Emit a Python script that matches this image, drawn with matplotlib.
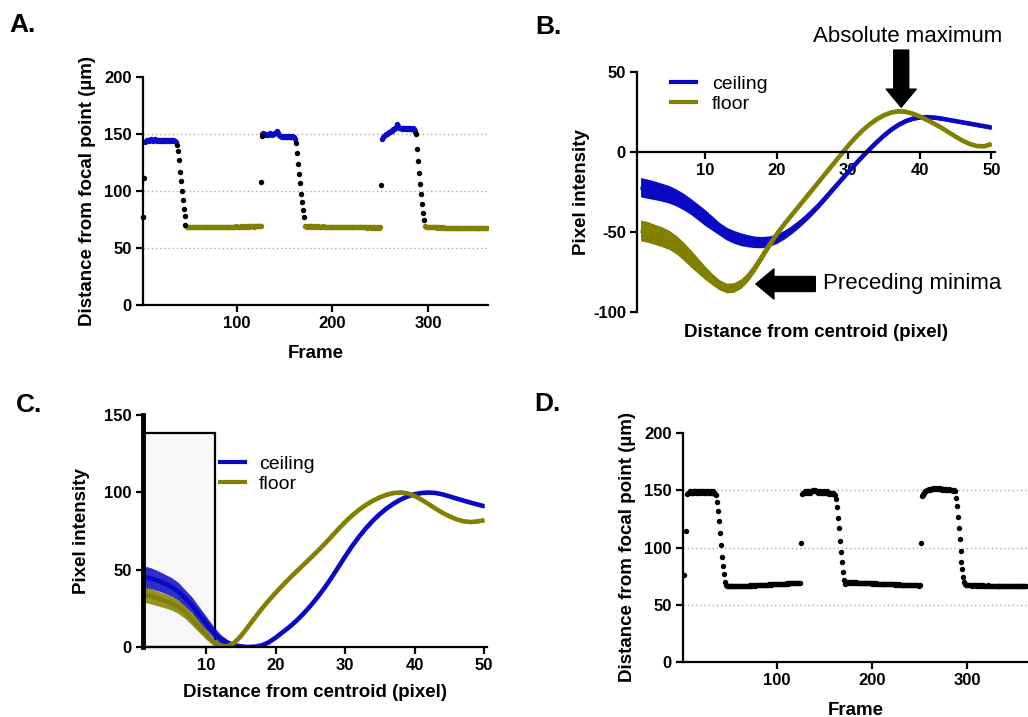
import numpy as np
import matplotlib
matplotlib.use("Agg")
import matplotlib.pyplot as plt
from matplotlib.lines import Line2D
from matplotlib.patches import Rectangle

plt.rcParams['font.family'] = ['Liberation Sans', 'DejaVu Sans']
plt.rcParams['axes.unicode_minus'] = False

BLUE = '#0a0ac4'
OLIVE = '#828000'

# ---------------- panel A : frame traces, colour coded ----------------
# black points (transitions / outliers)
a_black_frames = [1, 2, 3, 37, 38, 39, 40, 41, 42, 43, 44, 45, 46, 125, 126,
                  162, 163, 164, 165, 166, 167, 168, 169, 170, 251,
                  288, 289, 290, 291, 292, 293, 294, 295, 296]
a_black_vals = [77, 77, 111, 140, 135, 127, 117, 109, 100, 92, 84, 78, 70, 108, 148,
                142, 133, 124, 115, 107, 97, 90, 83, 77, 105,
                150, 137, 126, 116, 106, 97, 89, 81, 75]
# ceiling segments (start frame, values)
a_blue_start = [4, 126, 252]
a_blue_vals = [
    [143, 144, 145, 145, 144, 145, 146, 145, 144, 145,
     146, 145, 144, 145, 145, 144, 145, 144, 145, 145,
     144, 145, 144, 145, 145, 144, 145, 144, 145, 145,
     144, 144, 143],
    [150, 151, 150, 150, 149, 150, 150, 149, 150, 151,
     150, 149, 150, 150, 151, 152, 153, 151, 149, 148,
     148, 147, 148, 147, 148, 147, 147, 148, 147, 148,
     147, 147, 148, 147, 147, 146],
    [146, 147, 148, 149, 150, 150, 151, 152, 152, 153,
     153, 154, 154, 154, 155, 156, 159, 157, 155, 155,
     155, 154, 155, 155, 154, 155, 154, 155, 154, 155,
     154, 154, 155, 154, 153, 152],
]
# floor segments
a_olive_start = [47, 171, 297]
a_olive_vals = [
    [69.0, 68.6, 68.4, 68.7, 68.5, 68.3, 68.6, 68.8, 68.4, 68.5,
     68.7, 68.3, 68.5, 68.6, 68.4, 68.7, 68.5, 68.3, 68.6, 68.4,
     68.5, 68.7, 68.4, 68.6, 68.5, 68.3, 68.7, 68.5, 68.4, 68.6,
     68.5, 68.7, 68.4, 68.6, 68.5, 68.8, 68.6, 68.4, 68.7, 68.5,
     68.6, 68.8, 68.5, 68.7, 68.6, 68.4, 68.8, 68.6, 68.7, 68.5,
     68.8, 68.6, 68.9, 68.7, 68.6, 68.8, 68.7, 68.9, 68.6, 68.8,
     68.9, 68.7, 69.0, 68.8, 68.9, 69.1, 68.8, 69.0, 68.9, 69.1,
     69.0, 68.8, 69.1, 69.0, 69.2, 68.9, 69.1, 69.0, 69.2],
    [69.3, 69.0, 68.8, 69.0, 68.9, 69.1, 68.8, 69.0, 68.9, 68.7,
     68.9, 68.8, 69.0, 68.7, 68.9, 68.8, 68.6, 68.8, 68.7, 68.9,
     68.6, 68.8, 68.7, 68.5, 68.7, 68.6, 68.8, 68.5, 68.7, 68.6,
     68.4, 68.6, 68.5, 68.7, 68.4, 68.6, 68.5, 68.3, 68.5, 68.4,
     68.6, 68.3, 68.5, 68.4, 68.2, 68.4, 68.3, 68.5, 68.2, 68.4,
     68.3, 68.1, 68.3, 68.2, 68.4, 68.1, 68.3, 68.2, 68.0, 68.2,
     68.1, 68.3, 68.0, 68.2, 68.1, 67.9, 68.1, 68.0, 68.2, 67.9,
     68.1, 68.0, 67.8, 68.0, 67.9, 68.1, 67.8, 68.0, 67.9, 68.1],
    [69.3, 68.6, 68.4, 68.2, 68.4, 68.1, 68.3, 68.0, 68.2, 68.1,
     68.3, 68.0, 68.2, 67.9, 68.1, 68.0, 67.8, 68.0, 67.9, 68.1,
     67.8, 67.6, 67.8, 67.7, 67.9, 67.6, 67.8, 67.7, 67.5, 67.7,
     67.6, 67.8, 67.5, 67.7, 67.6, 67.4, 67.6, 67.5, 67.7, 67.4,
     67.6, 67.5, 67.3, 67.5, 67.4, 67.6, 67.3, 67.5, 67.4, 67.2,
     67.4, 67.3, 67.5, 67.2, 67.4, 67.3, 67.5, 67.6, 67.4, 67.6,
     67.5, 67.7, 67.4, 67.6, 67.5, 67.7],
]

# ---------------- panel D : raw frame trace ----------------
d_seg_start = [2, 4, 5, 37, 46, 125, 126, 162, 171, 251, 252, 288, 298]
d_seg_vals = [
    [76],
    [114],
    [147, 148, 148, 149, 148, 148, 149, 148, 149, 149, 148, 149, 148, 149, 149, 148,
     149, 149, 148, 149, 148, 149, 149, 148, 148, 149, 148, 148, 149, 148, 147, 146],
    [140, 132, 123, 113, 102, 92, 84, 77, 70],
    [67.5, 66.8, 66.5, 66.6, 66.4, 66.7, 66.5, 66.3, 66.6, 66.4,
     66.5, 66.7, 66.4, 66.6, 66.3, 66.5, 66.7, 66.4, 66.6, 66.5,
     66.7, 66.5, 66.8, 66.6, 66.7, 66.9, 66.6, 66.8, 66.7, 66.9,
     67.0, 66.8, 67.1, 66.9, 67.0, 67.2, 67.0, 67.3, 67.1, 67.3,
     67.4, 67.2, 67.5, 67.3, 67.5, 67.7, 67.5, 67.8, 67.6, 67.8,
     67.9, 67.7, 68.0, 67.8, 68.1, 68.0, 68.2, 68.1, 68.3, 68.2,
     68.4, 68.3, 68.5, 68.4, 68.6, 68.5, 68.7, 68.6, 68.8, 68.7,
     68.9, 68.8, 69.0, 68.9, 69.1, 69.0, 69.2, 69.1, 69.3],
    [104],
    [147, 148, 148, 149, 148, 149, 148, 149, 149, 148, 149, 149, 150, 149, 150, 149, 149, 148,
     149, 148, 149, 148, 148, 149, 148, 148, 149, 148, 148, 147, 148, 148, 147, 148, 147, 146],
    [142, 135, 126, 117, 106, 96, 87, 79, 72],
    [68.2, 69.0, 69.3, 69.5, 69.4, 69.6, 69.3, 69.5, 69.4, 69.6,
     69.5, 69.3, 69.5, 69.4, 69.2, 69.4, 69.3, 69.1, 69.3, 69.2,
     69.0, 69.2, 69.0, 68.8, 69.0, 68.9, 68.7, 68.9, 68.7, 68.5,
     68.7, 68.6, 68.4, 68.6, 68.4, 68.3, 68.5, 68.3, 68.1, 68.3,
     68.2, 68.0, 68.2, 68.0, 67.9, 68.1, 67.9, 67.8, 68.0, 67.8,
     67.7, 67.9, 67.7, 67.6, 67.8, 67.6, 67.5, 67.7, 67.5, 67.4,
     67.6, 67.4, 67.3, 67.5, 67.3, 67.2, 67.4, 67.2, 67.1, 67.3,
     67.2, 67.0, 67.2, 67.0, 66.9, 67.1, 66.9, 67.0, 66.8, 67.0],
    [104],
    [145, 146, 147, 148, 149, 149, 150, 150, 151, 150, 151, 151, 152, 151, 152, 151, 152, 151,
     151, 152, 151, 151, 150, 151, 151, 150, 151, 150, 150, 151, 150, 150, 150, 149, 150, 149],
    [143, 136, 127, 117, 107, 97, 87, 81, 74, 70],
    [67.8, 67.3, 67.1, 67.0, 67.2, 66.9, 67.1, 66.8, 67.0, 66.9,
     67.1, 66.8, 67.0, 66.9, 66.7, 66.9, 66.8, 67.0, 66.7, 66.9,
     66.8, 66.6, 66.8, 66.7, 66.9, 66.6, 66.8, 66.7, 66.5, 66.7,
     66.6, 66.8, 66.5, 66.7, 66.6, 66.4, 66.6, 66.5, 66.7, 66.4,
     66.6, 66.5, 66.3, 66.5, 66.4, 66.6, 66.3, 66.5, 66.4, 66.2,
     66.4, 66.3, 66.5, 66.2, 66.4, 66.3, 66.1, 66.3, 66.2, 66.4,
     66.1, 66.3, 66.2, 66.0, 66.2],
]

# ---------------- panels B and C : radial profiles ----------------
dist = list(range(1, 51))
b_ceiling = [-22, -23, -24, -25.2, -26.5, -28.5, -31, -34, -37.5, -41,
             -44.5, -48, -51, -53, -54.5, -55.5, -56.2, -56.3, -55.6, -54.2,
             -51.8, -48.8, -45.3, -41.5, -37.3, -32.8, -27.8, -22.7, -17.6, -12.6,
             -7.6, -2.8, 1.8, 6.2, 10.3, 13.9, 16.9, 19.2, 20.8, 21.6,
             21.8, 21.5, 20.9, 20.1, 19.3, 18.5, 17.7, 16.9, 16.1, 15.3]
b_ceiling_err = [6, 6, 5.8, 5.6, 5.5, 5.3, 5.2, 5, 5, 5,
                 4.5, 4, 4, 4, 4, 3.8, 3.6, 3.5, 3.2, 3,
                 2.8, 2.6, 2.4, 2.2, 2, 1.8, 1.6, 1.4, 1.2, 1,
                 1, 1, 1, 1, 1, 1, 1, 1, 1, 1,
                 1, 1, 1, 1, 1, 1, 1, 1, 1, 1]
b_floor = [-49, -50, -51.5, -53, -55, -58, -62, -66.5, -71, -75.5,
           -79.5, -83, -85, -84.7, -82.3, -78, -72, -65, -58, -51.5,
           -45.5, -40, -34.5, -29, -23.5, -18, -12.5, -7, -1.5, 4,
           9, 13.5, 17.3, 20.5, 23, 24.7, 25.5, 25.2, 24, 22.2,
           20, 17.7, 15.2, 12.4, 9.6, 7, 5, 3.7, 3.6, 5]
b_floor_err = [6.5, 6.5, 6.3, 6.2, 6, 5.8, 5.6, 5.4, 4.8, 4.2,
               3.6, 3.2, 3, 3, 3, 2.8, 2.6, 2.4, 2.2, 2,
               1, 1, 1, 1, 1, 1, 1, 1, 1, 1,
               1, 1, 1, 1, 1, 1, 1, 1, 1, 1,
               1, 1, 1, 1, 1, 1, 1, 1, 1, 1]
c_ceiling = [45.5, 44.5, 43, 41, 39, 36, 31.5, 27, 21, 15.5,
             10, 5.5, 2.8, 1.2, 0.4, 0, 0.2, 1, 3, 6,
             9.5, 13, 17, 21.5, 26.5, 32, 38, 44.5, 51.5, 58.5,
             65.2, 71.3, 76.8, 81.7, 86, 89.7, 92.8, 95.4, 97.4, 98.8,
             99.6, 99.9, 99.6, 98.7, 97.4, 96, 94.7, 93.4, 92.2, 91]
c_ceiling_err = [7, 6.8, 6.5, 6.2, 6, 5.8, 5.5, 5.2, 5, 4.5,
                 3.8, 3, 2.2, 1.6, 1.2, 1, 1, 1, 1, 1,
                 1, 1, 1, 1, 1, 1, 1, 1, 1, 1,
                 1, 1, 1, 1, 1, 1, 1, 1, 1, 1,
                 1, 1, 1, 1, 1, 1, 1, 1, 1, 1]
c_floor = [34, 33, 31.5, 30, 28.5, 26, 22.5, 18, 13, 8,
           3.5, 1, 0.3, 2.5, 7, 12.8, 18.8, 24.6, 30, 35,
           39.8, 44.4, 48.8, 53.1, 57.4, 61.8, 66.4, 71.2, 76.1, 80.8,
           85, 88.7, 91.9, 94.6, 96.8, 98.5, 99.6, 99.9, 99.3, 97.6,
           95.2, 92.4, 89.5, 86.8, 84.5, 82.6, 81.3, 80.8, 81.2, 82]
c_floor_err = [5, 5, 4.8, 4.6, 4.5, 4.3, 4.1, 4, 3.5, 3,
               2.2, 1.5, 1, 1, 1, 1, 1, 1, 1, 1,
               1, 1, 1, 1, 1, 1, 1, 1, 1, 1,
               1, 1, 1, 1, 1, 1, 1, 1, 1, 1,
               1, 1, 1, 1, 1, 1, 1, 1, 1, 1]

W, H = 1028, 717
fig = plt.figure(figsize=(W / 100, H / 100), dpi=100)


def px_axes(left, top, right, bottom):
    return fig.add_axes([left / W, 1 - bottom / H, (right - left) / W, (bottom - top) / H])


def style(ax):
    for s in ['top', 'right']:
        ax.spines[s].set_visible(False)
    for s in ['left', 'bottom']:
        ax.spines[s].set_linewidth(1.6)
    ax.tick_params(direction='out', length=5, width=1.6, labelsize=12, pad=3)
    for lab in ax.get_xticklabels() + ax.get_yticklabels():
        lab.set_fontweight('bold')


def frame_axes(ax):
    ax.set_ylim(0, 200)
    ax.set_yticks([0, 50, 100, 150, 200])
    ax.set_xticks([100, 200, 300])
    for g in [50, 100, 150]:
        ax.axhline(g, color='#a8a8a8', lw=1, ls=(0, (1, 2)), zorder=0)
    ax.set_xlabel('Frame', fontsize=13.5, fontweight='bold', labelpad=10)
    ax.set_ylabel('Distance from focal point (\u00b5m)', fontsize=13.5, fontweight='bold', labelpad=6)
    style(ax)


def profile(ax, mean, err, color, band_alpha=1.0, lw=3.3):
    m = np.array(mean)
    e = np.array(err)
    ax.fill_between(dist, m - e, m + e, color=color, lw=0, alpha=band_alpha)
    ax.plot(dist, m, color=color, lw=lw, solid_capstyle='butt', solid_joinstyle='round')


ms = 3.9
# A
axA = px_axes(143, 77, 488, 305)
axA.set_xlim(1.5, 363)
for st, vals in zip(a_olive_start, a_olive_vals):
    axA.plot(np.arange(st, st + len(vals)), vals, 'o', ms=ms, color=OLIVE, mec='none')
for st, vals in zip(a_blue_start, a_blue_vals):
    axA.plot(np.arange(st, st + len(vals)), vals, 'o', ms=ms, color=BLUE, mec='none')
axA.plot(a_black_frames, a_black_vals, 'o', ms=ms, color='black', mec='none', clip_on=False)
frame_axes(axA)

# D
axD = px_axes(683, 433, 1028, 662)
axD.set_xlim(1, 364)
d_frames = np.concatenate([np.arange(st, st + len(v)) for st, v in zip(d_seg_start, d_seg_vals)])
d_vals = np.concatenate([np.array(v, dtype=float) for v in d_seg_vals])
axD.plot(d_frames, d_vals, 'o', ms=ms, color='black', mec='none')
frame_axes(axD)

# B
axB = px_axes(637, 72, 995, 312)
axB.set_xlim(0.5, 50.5)
axB.set_ylim(-100, 50)
profile(axB, b_ceiling, b_ceiling_err, BLUE)
profile(axB, b_floor, b_floor_err, OLIVE)
axB.spines['bottom'].set_position(('data', 0))
axB.set_xticks([10, 20, 30, 40, 50])
axB.set_yticks([-100, -50, 0, 50])
axB.set_ylabel('Pixel intensity', fontsize=13.5, fontweight='bold', labelpad=2)
style(axB)
fig.text(816 / W, 1 - 333 / H, 'Distance from centroid (pixel)', fontsize=13.5,
         fontweight='bold', ha='center', va='center')
arr = dict(arrowstyle='simple,head_length=0.65,head_width=1.08,tail_width=0.54',
           color='black', shrinkA=0, shrinkB=0, mutation_scale=20)
axB.annotate('', xy=(37.4, 28), xytext=(37.4, 63.7), arrowprops=arr, annotation_clip=False)
axB.annotate('', xy=(17.1, -82.5), xytext=(25.4, -82.5), arrowprops=arr, annotation_clip=False)
fig.text(908 / W, 1 - 36 / H, 'Absolute maximum', fontsize=16, ha='center', va='center')
fig.text(823 / W, 1 - 284 / H, 'Preceding minima', fontsize=16, ha='left', va='center')
handles = [Line2D([], [], color=BLUE, lw=3), Line2D([], [], color=OLIVE, lw=3)]
axB.legend(handles, ['ceiling', 'floor'], loc='upper left', bbox_to_anchor=(671 / W, 1 - 75 / H),
           bbox_transform=fig.transFigure, frameon=False, fontsize=14, handlelength=1.3,
           handletextpad=0.8, labelspacing=0.15, borderpad=0, borderaxespad=0)

# C
axC = px_axes(143, 415, 487, 647)
axC.set_xlim(0.94, 50.4)
axC.set_ylim(0, 150)
axC.add_patch(Rectangle((0.94, 0), 11.3 - 0.94, 138.3, facecolor='#f7f7f7',
                        edgecolor='black', lw=1.6, zorder=1, clip_on=False))
profile(axC, c_ceiling, c_ceiling_err, BLUE, band_alpha=0.85)
profile(axC, c_floor, c_floor_err, OLIVE, band_alpha=0.85)
axC.set_xticks([10, 20, 30, 40, 50])
axC.set_yticks([0, 50, 100, 150])
axC.set_xlabel('Distance from centroid (pixel)', fontsize=13.5, fontweight='bold', labelpad=8)
axC.set_ylabel('Pixel intensity', fontsize=13.5, fontweight='bold', labelpad=10)
style(axC)
axC.spines['left'].set_linewidth(3.5)
axC.legend(handles, ['ceiling', 'floor'], loc='upper left', bbox_to_anchor=(220 / W, 1 - 455 / H),
           bbox_transform=fig.transFigure, frameon=False, fontsize=14, handlelength=1.3,
           handletextpad=0.7, labelspacing=0.15, borderpad=0, borderaxespad=0)

# panel letters
for lbl, x, y in [('A.', 9, 25), ('B.', 535, 27), ('C.', 16, 405), ('D.', 534, 404)]:
    fig.text(x / W, 1 - y / H, lbl, fontsize=19, fontweight='bold', ha='left', va='center')

fig.savefig('out.png', dpi=100)
